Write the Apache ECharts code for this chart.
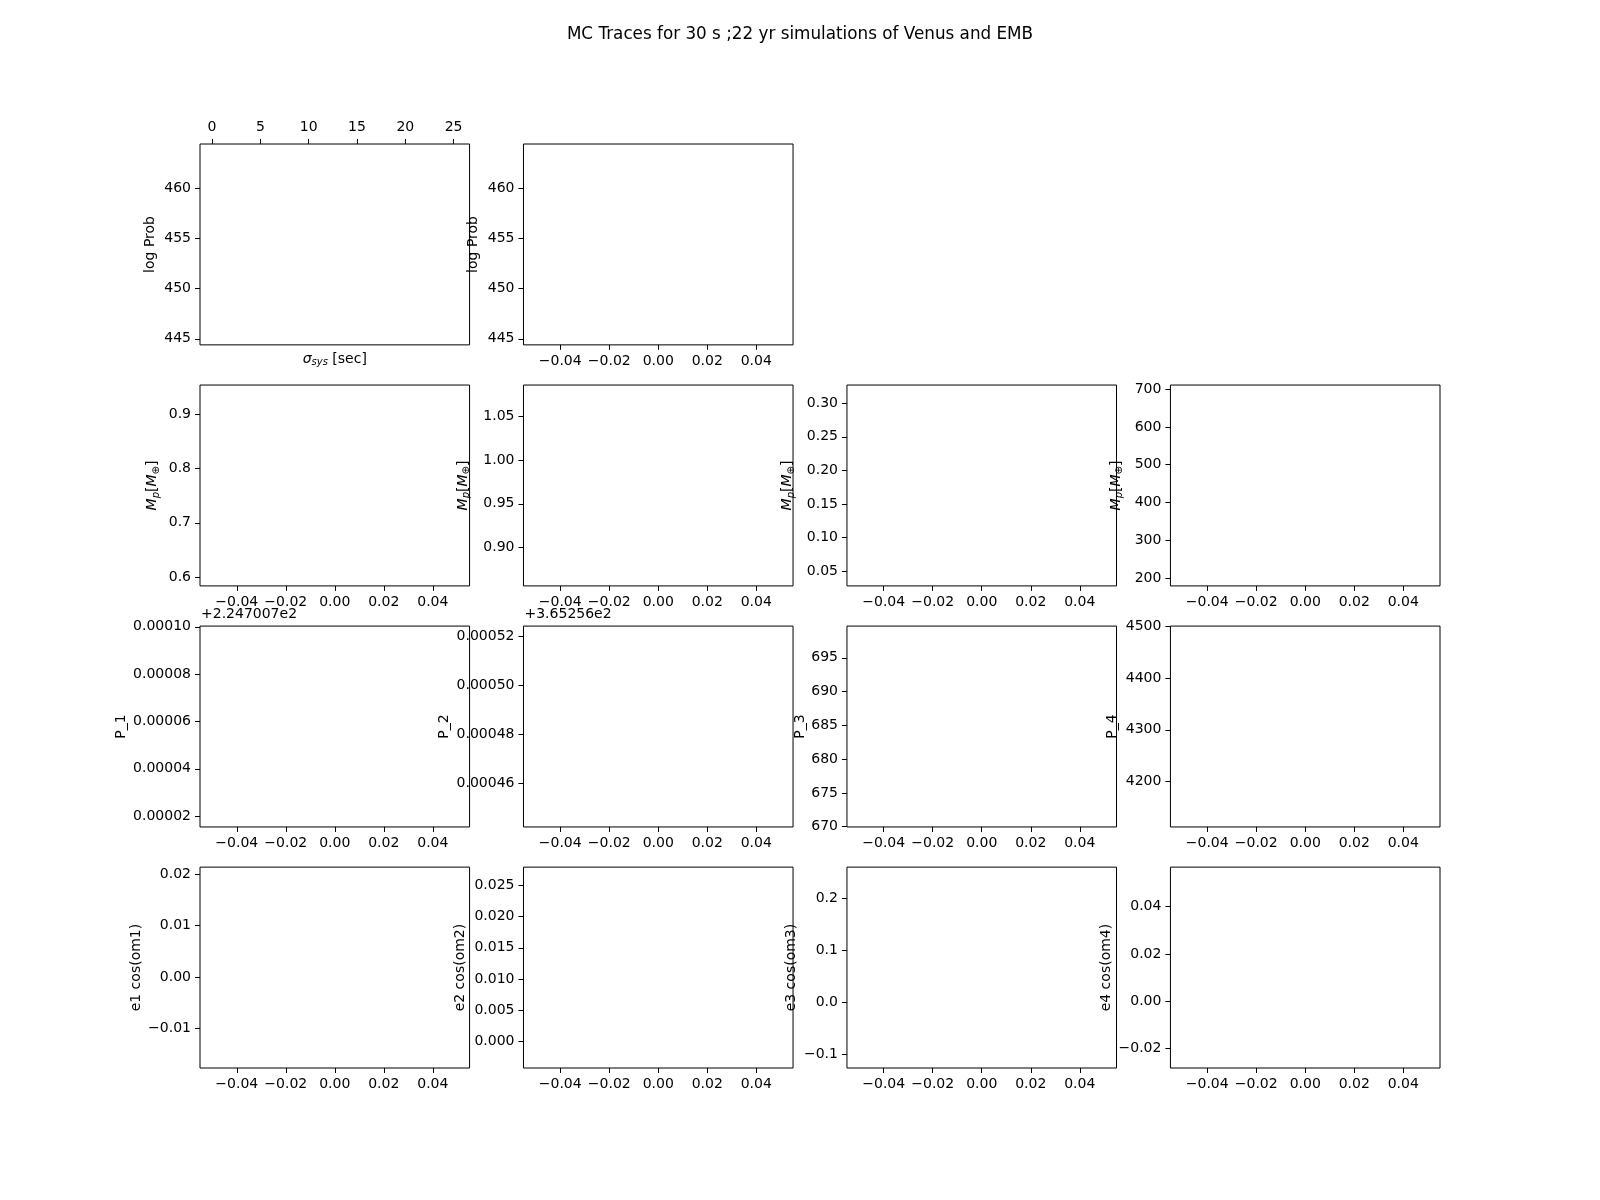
<!DOCTYPE html>
<html>
<head>
<meta charset="utf-8">
<script src="https://cdn.jsdelivr.net/npm/echarts@6/dist/echarts.min.js"></script>
<style>
html,body{margin:0;padding:0;background:#fff;}
#chart{width:1600px;height:1200px;}
</style>
</head>
<body>
<div id="chart"></div>
<script>
// ---- data: tick values and axis ranges ----
const titleText = 'MC Traces for 30 s ;22 yr simulations of Venus and EMB';

const sigmaTicks = [0, 5, 10, 15, 20, 25];
const sigmaRange = [-1.25, 26.65];
const emptyXTicks = [-0.04, -0.02, 0, 0.02, 0.04];
const emptyXRange = [-0.055, 0.055];

const logProbTicks = [445, 450, 455, 460];
const logProbRange = [444.4, 464.4];

const mass1Ticks = [0.6, 0.7, 0.8, 0.9];
const mass1Range = [0.584, 0.953];
const mass2Ticks = [0.90, 0.95, 1.00, 1.05];
const mass2Range = [0.856, 1.086];
const mass3Ticks = [0.05, 0.10, 0.15, 0.20, 0.25, 0.30];
const mass3Range = [0.028, 0.327];
const mass4Ticks = [200, 300, 400, 500, 600, 700];
const mass4Range = [179, 711];

const period1Ticks = [0.00002, 0.00004, 0.00006, 0.00008, 0.00010];
const period1Range = [0.0000154, 0.0001003];
const period2Ticks = [0.00046, 0.00048, 0.00050, 0.00052];
const period2Range = [0.000442, 0.000524];
const period3Ticks = [670, 675, 680, 685, 690, 695];
const period3Range = [669.96, 699.7];
const period4Ticks = [4200, 4300, 4400, 4500];
const period4Range = [4111.4, 4501.2];

const ecc1Ticks = [-0.01, 0.00, 0.01, 0.02];
const ecc1Range = [-0.0177, 0.0214];
const ecc2Ticks = [0.000, 0.005, 0.010, 0.015, 0.020, 0.025];
const ecc2Range = [-0.0042, 0.0279];
const ecc3Ticks = [-0.1, 0.0, 0.1, 0.2];
const ecc3Range = [-0.1264, 0.26];
const ecc4Ticks = [-0.02, 0.00, 0.02, 0.04];
const ecc4Range = [-0.0282, 0.0567];

const periodOffsets = ['+2.247007e2', '+3.65256e2'];
const eccLabels = ['e1 cos(om1)', 'e2 cos(om2)', 'e3 cos(om3)', 'e4 cos(om4)'];
const periodLabels = ['P_1', 'P_2', 'P_3', 'P_4'];

// ---- layout (matplotlib default subplot grid 4x4) ----
const FONT = 'DejaVu Sans';
const FS = 14;
const L = 200, T = 144;
const W = 1240 / 4.6, H = 924 / 4.6;
const GX = W * 0.2, GY = H * 0.2;
const colLeft = c => L + c * (W + GX);
const rowTop = r => T + r * (H + GY);

function fmt(d) {
  return v => (v < 0 ? '\u2212' : '') + Math.abs(v).toFixed(d);
}

const richBase = {
  i: { fontStyle: 'italic', fontSize: FS, fontFamily: FONT, color: '#000', lineHeight: 17, verticalAlign: 'middle' },
  n: { fontSize: FS, fontFamily: FONT, color: '#000', lineHeight: 17, verticalAlign: 'middle' },
  s: { fontStyle: 'italic', fontSize: 10, fontFamily: FONT, color: '#000', lineHeight: 10, verticalAlign: 'bottom' },
  su: { fontSize: 10, fontFamily: FONT, color: '#000', lineHeight: 10, verticalAlign: 'bottom' }
};
const massLabel = '{i|M}{s|p}{n|[}{i|M}{su|\u2295}{n|]}';

// panels: [row, col, yTicks, yRange, yDecimals, yLabel, labelCenterOffset]
const panels = [
  [0, 0, logProbTicks, logProbRange, 0, 'log Prob', 51],
  [0, 1, logProbTicks, logProbRange, 0, 'log Prob', 51],
  [1, 0, mass1Ticks, mass1Range, 1, massLabel, 47],
  [1, 1, mass2Ticks, mass2Range, 2, massLabel, 60],
  [1, 2, mass3Ticks, mass3Range, 2, massLabel, 59],
  [1, 3, mass4Ticks, mass4Range, 0, massLabel, 54],
  [2, 0, period1Ticks, period1Range, 5, periodLabels[0], 80],
  [2, 1, period2Ticks, period2Range, 5, periodLabels[1], 80],
  [2, 2, period3Ticks, period3Range, 0, periodLabels[2], 48],
  [2, 3, period4Ticks, period4Range, 0, periodLabels[3], 59],
  [3, 0, ecc1Ticks, ecc1Range, 2, eccLabels[0], 65],
  [3, 1, ecc2Ticks, ecc2Range, 3, eccLabels[1], 64],
  [3, 2, ecc3Ticks, ecc3Range, 1, eccLabels[2], 57],
  [3, 3, ecc4Ticks, ecc4Range, 2, eccLabels[3], 65]
];

const grids = [], xAxes = [], yAxes = [], series = [];

const tickStyle = { show: true, inside: false, length: 5, lineStyle: { color: '#000', width: 1 } };
const labelBase = { show: true, color: '#000', fontSize: FS, fontFamily: FONT, margin: 9 };

panels.forEach((p, k) => {
  const [r, c, yt, yr, yd, ylab, off] = p;
  grids.push({
    left: colLeft(c), top: rowTop(r), width: W, height: H,
    show: true, borderColor: '#000', borderWidth: 1, backgroundColor: '#fff'
  });
  const first = (r === 0 && c === 0);
  const xt = first ? sigmaTicks : emptyXTicks;
  const xr = first ? sigmaRange : emptyXRange;
  const xd = first ? 0 : 2;
  xAxes.push({
    type: 'value', gridIndex: k, min: xr[0], max: xr[1],
    position: first ? 'top' : 'bottom',
    axisLine: { show: false, onZero: false },
    splitLine: { show: false },
    axisTick: Object.assign({}, tickStyle, { customValues: xt }),
    axisLabel: Object.assign({}, labelBase, { customValues: xt, formatter: fmt(xd), margin: first ? 10 : 9 })
  });
  yAxes.push({
    type: 'value', gridIndex: k, min: yr[0], max: yr[1],
    axisLine: { show: false, onZero: false },
    splitLine: { show: false },
    axisTick: Object.assign({}, tickStyle, { customValues: yt }),
    axisLabel: Object.assign({}, labelBase, { customValues: yt, formatter: fmt(yd) }),
    name: ylab, nameLocation: 'middle', nameGap: off - 8,
    nameTextStyle: { color: '#000', fontSize: FS, fontFamily: FONT, rich: richBase }
  });
  series.push({ type: 'line', xAxisIndex: xAxes.length - 1, yAxisIndex: yAxes.length - 1, data: [] });
});

// bottom axis of the first panel carrying only the sigma_sys label
xAxes.push({
  type: 'value', gridIndex: 0, min: sigmaRange[0], max: sigmaRange[1], position: 'bottom',
  axisLine: { show: false, onZero: false }, axisTick: { show: false }, axisLabel: { show: false }, splitLine: { show: false },
  name: '{g|\u03C3}{s|sys}{n| [sec]}', nameLocation: 'middle', nameGap: 6,
  nameTextStyle: { color: '#000', fontSize: FS, fontFamily: FONT,
    rich: Object.assign({}, richBase, { g: richBase.i }) }
});

const graphics = periodOffsets.map((t, c) => ({
  type: 'text', left: colLeft(c) + 1, top: rowTop(2) - 19,
  style: { text: t, fill: '#000', fontSize: FS, fontFamily: FONT }
}));

const chart = echarts.init(document.getElementById('chart'), null, { renderer: 'canvas' });
chart.setOption({
  backgroundColor: '#fff',
  animation: false,
  title: {
    text: titleText, left: 'center', top: 21,
    textStyle: { color: '#000', fontSize: 16.8, fontWeight: 'normal', fontFamily: FONT }
  },
  grid: grids,
  xAxis: xAxes,
  yAxis: yAxes,
  series: series,
  graphic: graphics
});
</script>
</body>
</html>
